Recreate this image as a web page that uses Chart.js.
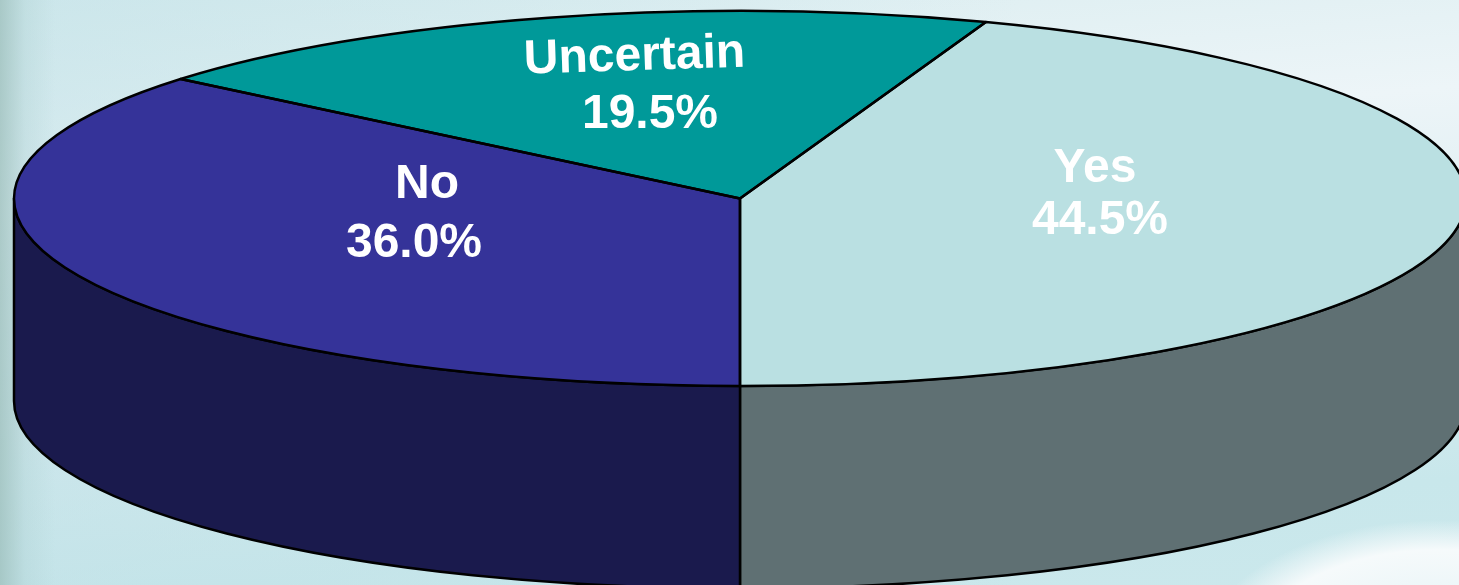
<!DOCTYPE html>
<html>
<head>
<meta charset="utf-8">
<title>Pie</title>
<script src="https://cdn.jsdelivr.net/npm/chart.js@4/dist/chart.umd.min.js"></script>
<style>
    html, body { margin: 0; padding: 0; width: 1459px; height: 585px; overflow: hidden; }
    body {
        background:
            radial-gradient(ellipse 240px 135px at 1440px 655px, rgba(228,242,245,0.8) 0%, rgba(248,251,252,0.95) 78%, rgba(255,255,255,0) 100%),
            linear-gradient(90deg, rgba(150,185,180,0.65) 0px, rgba(170,205,205,0.3) 25px, rgba(208,232,234,0) 55px),
            linear-gradient(90deg, rgba(190,224,230,0.5) 0%, rgba(200,232,236,0) 70%),
            linear-gradient(175deg, #d8ecef 0%, #edf5f8 30%, #dcedf1 55%, #c8e7eb 85%, #cbe8ec 100%),
            #d4eaed;
    }
    #pie { display: block; }
</style>
</head>
<body>
<canvas id="pie" width="1459" height="585"></canvas>
<script>
const categories = ["Yes", "No", "Uncertain"];
const shares = [44.5, 36.0, 19.5];
const topColors = ["#bae0e2", "#353399", "#009999"];
const sideColors = ["#5f7073", "#1a1a4d", "#004d4d"];

// where the tilted disc sits on the page
const disc = { x: 740, y: 198.5, rx: 726, ry: 187.5, depth: 202.5 };

// label anchors: name centre/baseline, value centre/baseline, name tilt
const labelSpots = [
    { nameX: 1095, nameY: 182, valueX: 1100, valueY: 234, tilt: 0 },
    { nameX: 427, nameY: 198, valueX: 414, valueY: 257, tilt: 0 },
    { nameX: 635, nameY: 70, valueX: 650, valueY: 128, tilt: -1.8 }
];

function arcsOf(chart) {
    return chart.getDatasetMeta(0).data;
}

function outline(ctx, arc) {
    ctx.beginPath();
    ctx.moveTo(disc.x, disc.y);
    ctx.ellipse(disc.x, disc.y, disc.rx, disc.ry, 0, arc.startAngle, arc.endAngle);
    ctx.closePath();
    ctx.stroke();
}

function drawWalls(ctx, arcs) {
    arcs.forEach((arc, i) => {
        const from = Math.max(arc.startAngle, 0);
        const to = Math.min(arc.endAngle, Math.PI);
        if (to <= from) return;
        ctx.beginPath();
        ctx.ellipse(disc.x, disc.y, disc.rx, disc.ry, 0, from, to);
        ctx.ellipse(disc.x, disc.y + disc.depth, disc.rx, disc.ry, 0, to, from, true);
        ctx.closePath();
        ctx.fillStyle = sideColors[i];
        ctx.fill();
        ctx.stroke();
    });
}

const tiltedPie = {
    id: "tiltedPie",
    beforeDatasetsDraw(chart) {
        const ctx = chart.ctx;
        const arcs = arcsOf(chart);
        const first = arcs[0];
        ctx.save();
        ctx.strokeStyle = "#000";
        ctx.lineWidth = 2.5;
        ctx.lineJoin = "round";
        drawWalls(ctx, arcs);
        ctx.restore();

        // squash the library's round pie into the disc
        ctx.save();
        ctx.translate(disc.x, disc.y);
        ctx.scale(disc.rx / first.outerRadius, disc.ry / first.outerRadius);
        ctx.translate(-first.x, -first.y);
    },
    afterDatasetsDraw(chart) {
        const ctx = chart.ctx;
        ctx.restore();
        ctx.save();
        ctx.strokeStyle = "#000";
        ctx.lineWidth = 2.5;
        ctx.lineJoin = "round";
        arcsOf(chart).forEach(arc => outline(ctx, arc));
        ctx.restore();
    },
    afterDraw(chart) {
        const ctx = chart.ctx;
        ctx.save();
        ctx.fillStyle = "#fff";
        ctx.font = "bold 48px 'Liberation Sans', Arial, sans-serif";
        ctx.textAlign = "center";
        ctx.textBaseline = "alphabetic";
        categories.forEach((name, i) => {
            const spot = labelSpots[i];
            ctx.save();
            ctx.translate(spot.nameX, spot.nameY);
            ctx.rotate(spot.tilt * Math.PI / 180);
            ctx.fillText(name, 0, 0);
            ctx.restore();
            ctx.fillText(shares[i].toFixed(1) + "%", spot.valueX, spot.valueY);
        });
        ctx.restore();
    }
};

new Chart(document.getElementById("pie"), {
    type: "pie",
    data: {
        labels: categories,
        datasets: [{
            data: shares,
            backgroundColor: topColors,
            borderWidth: 0
        }]
    },
    options: {
        responsive: false,
        animation: false,
        rotation: 19.8,
        layout: { padding: 0 },
        plugins: {
            legend: { display: false },
            tooltip: { enabled: false }
        }
    },
    plugins: [tiltedPie]
});
</script>
</body>
</html>
